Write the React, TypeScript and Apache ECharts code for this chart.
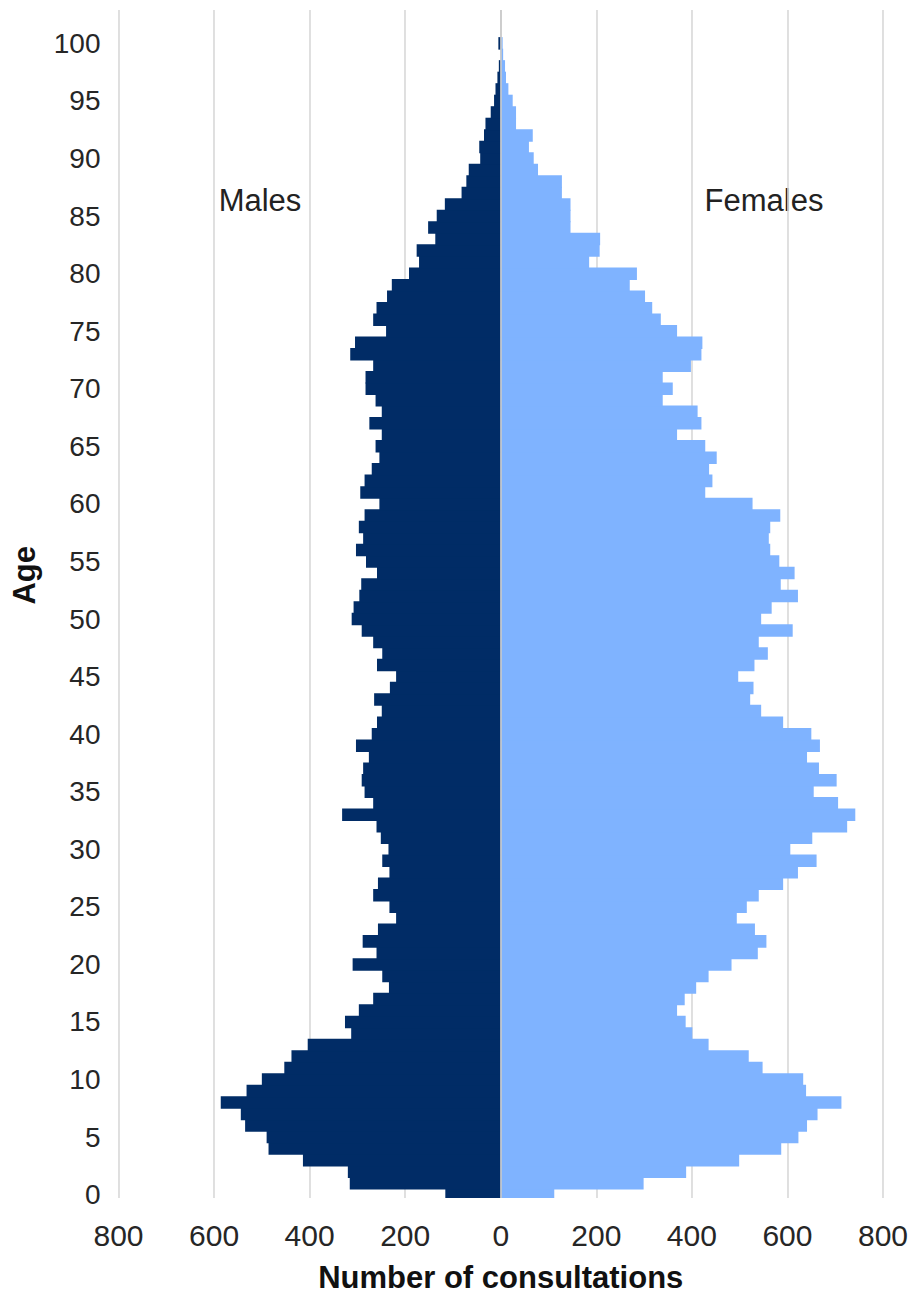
import React, { useEffect, useRef } from "react";
import * as echarts from "echarts";

const ages: number[] = Array.from({ length: 101 }, (_, i) => i);

const males: number[] = [
  116, 316, 320, 414, 486, 490, 535, 544, 586, 532,
  500, 453, 438, 404, 313, 326, 297, 267, 234, 248,
  310, 260, 289, 257, 219, 233, 267, 257, 233, 248,
  235, 251, 260, 332, 267, 285, 291, 288, 276, 303,
  270, 259, 249, 265, 232, 219, 259, 248, 267, 291,
  312, 308, 296, 292, 259, 282, 303, 288, 297, 285,
  254, 294, 285, 270, 254, 262, 249, 275, 249, 262,
  283, 283, 267, 315, 305, 240, 267, 260, 238, 228,
  192, 171, 176, 137, 152, 134, 117, 82, 72, 67,
  43, 45, 35, 32, 21, 14, 11, 7, 4, 0,
  5,
];

const females: number[] = [
  112, 299, 388, 499, 587, 623, 641, 663, 713, 639,
  633, 548, 519, 435, 401, 387, 369, 385, 409, 435,
  483, 538, 556, 532, 494, 515, 540, 591, 622, 661,
  606, 652, 725, 742, 706, 655, 703, 666, 641, 668,
  650, 591, 545, 522, 529, 497, 531, 559, 540, 611,
  545, 567, 622, 586, 615, 583, 564, 561, 564, 585,
  527, 428, 443, 436, 452, 428, 369, 420, 412, 339,
  360, 339, 398, 420, 422, 369, 335, 317, 302, 270,
  285, 185, 207, 208, 146, 146, 146, 128, 128, 78,
  69, 59, 67, 32, 32, 25, 16, 11, 9, 5,
  4,
];

const ageTicks: number[] = [0, 5, 10, 15, 20, 25, 30, 35, 40, 45, 50, 55, 60, 65, 70, 75, 80, 85, 90, 95, 100];

const MALE_COLOR = "#012C66";
const FEMALE_COLOR = "#7FB3FF";
const FONT = "'Liberation Sans', Arial, Helvetica, sans-serif";

function makeRender(color: string) {
  return (params: any, api: any) => {
    const age = api.value(0) as number;
    const v = api.value(1) as number;
    const a = api.coord([0, age + 0.5]);
    const b = api.coord([v, age - 0.5]);
    const cs = params.coordSys;
    // small vertical overlap so neighbouring bars join without seams
    const top = a[1] - 0.5;
    const bottom = b[1] + 0.5;
    const shape = echarts.graphic.clipRectByRect(
      {
        x: Math.min(a[0], b[0]),
        y: top,
        width: Math.abs(b[0] - a[0]),
        height: bottom - top,
      },
      { x: cs.x, y: cs.y, width: cs.width, height: cs.height }
    );
    if (!shape) return null;
    return {
      type: "rect",
      shape,
      style: { fill: color },
    };
  };
}

export default function App() {
  const ref = useRef<HTMLDivElement>(null);

  useEffect(() => {
    if (!ref.current) return;
    const chart = echarts.init(ref.current, undefined, { renderer: "svg" });

    const maleData = ages.map((a, i) => [a, -males[i]]);
    const femaleData = ages.map((a, i) => [a, females[i]]);

    chart.setOption({
      animation: false,
      backgroundColor: "#ffffff",
      textStyle: { fontFamily: FONT },
      grid: {
        left: 118.5,
        right: 31,
        top: 10,
        bottom: 96,
        outerBoundsMode: "none",
      },
      xAxis: {
        type: "value",
        min: -800,
        max: 800,
        interval: 200,
        axisLine: { show: false },
        axisTick: { show: false },
        splitLine: { show: true, lineStyle: { color: "#d8d8d8", width: 1.6 } },
        axisLabel: {
          formatter: (v: number) => String(Math.abs(v)),
          fontSize: 30,
          color: "#262626",
          fontFamily: FONT,
          margin: 22,
        },
        name: "Number of consultations",
        nameLocation: "middle",
        nameGap: 64,
        nameTextStyle: {
          fontSize: 31,
          fontWeight: "bold",
          color: "#111111",
          fontFamily: FONT,
        },
      },
      yAxis: {
        type: "value",
        min: -0.29,
        max: 102.9,
        axisLine: { show: false },
        axisTick: { show: false },
        splitLine: { show: false },
        axisLabel: {
          customValues: ageTicks,
          fontSize: 28,
          color: "#262626",
          fontFamily: FONT,
          margin: 18,
        },
      },
      series: [
        {
          name: "Males",
          type: "custom",
          renderItem: makeRender(MALE_COLOR),
          dimensions: ["age", "value"],
          encode: { x: 1, y: 0 },
          data: maleData,
          z: 2,
        },
        {
          name: "Females",
          type: "custom",
          renderItem: makeRender(FEMALE_COLOR),
          dimensions: ["age", "value"],
          encode: { x: 1, y: 0 },
          data: femaleData,
          z: 2,
          markLine: {
            silent: true,
            symbol: ["none", "none"],
            label: { show: false },
            lineStyle: { color: "#c9c9c9", width: 1.6, type: "solid" },
            data: [{ xAxis: 0 }],
            z: 5,
          },
        },
      ],
      graphic: [
        {
          type: "text",
          left: 25 - 16,
          top: 576 - 30,
          style: {
            text: "Age",
            fontSize: 31,
            fontWeight: "bold",
            fill: "#111111",
            fontFamily: FONT,
          },
          rotation: Math.PI / 2,
          originX: 0,
          originY: 0,
          z: 10,
        },
        {
          type: "group",
          z: 10,
          children: [
            {
              type: "rect",
              shape: { x: 203, y: 168, width: 115, height: 68 },
              style: { fill: "#ffffff" },
            },
            {
              type: "text",
              x: 260,
              y: 200,
              style: {
                text: "Males",
                fontSize: 31,
                fill: "#222222",
                fontFamily: FONT,
                align: "center",
                verticalAlign: "middle",
              },
            },
            {
              type: "rect",
              shape: { x: 678, y: 168, width: 172, height: 70 },
              style: { fill: "#ffffff" },
            },
            {
              type: "text",
              x: 764,
              y: 200,
              style: {
                text: "Females",
                fontSize: 31,
                fill: "#222222",
                fontFamily: FONT,
                align: "center",
                verticalAlign: "middle",
              },
            },
          ],
        },
      ],
    });

    return () => chart.dispose();
  }, []);

  return (
    <div
      ref={ref}
      style={{ position: "fixed", left: 0, top: 0, width: 914, height: 1294, background: "#fff" }}
    />
  );
}
